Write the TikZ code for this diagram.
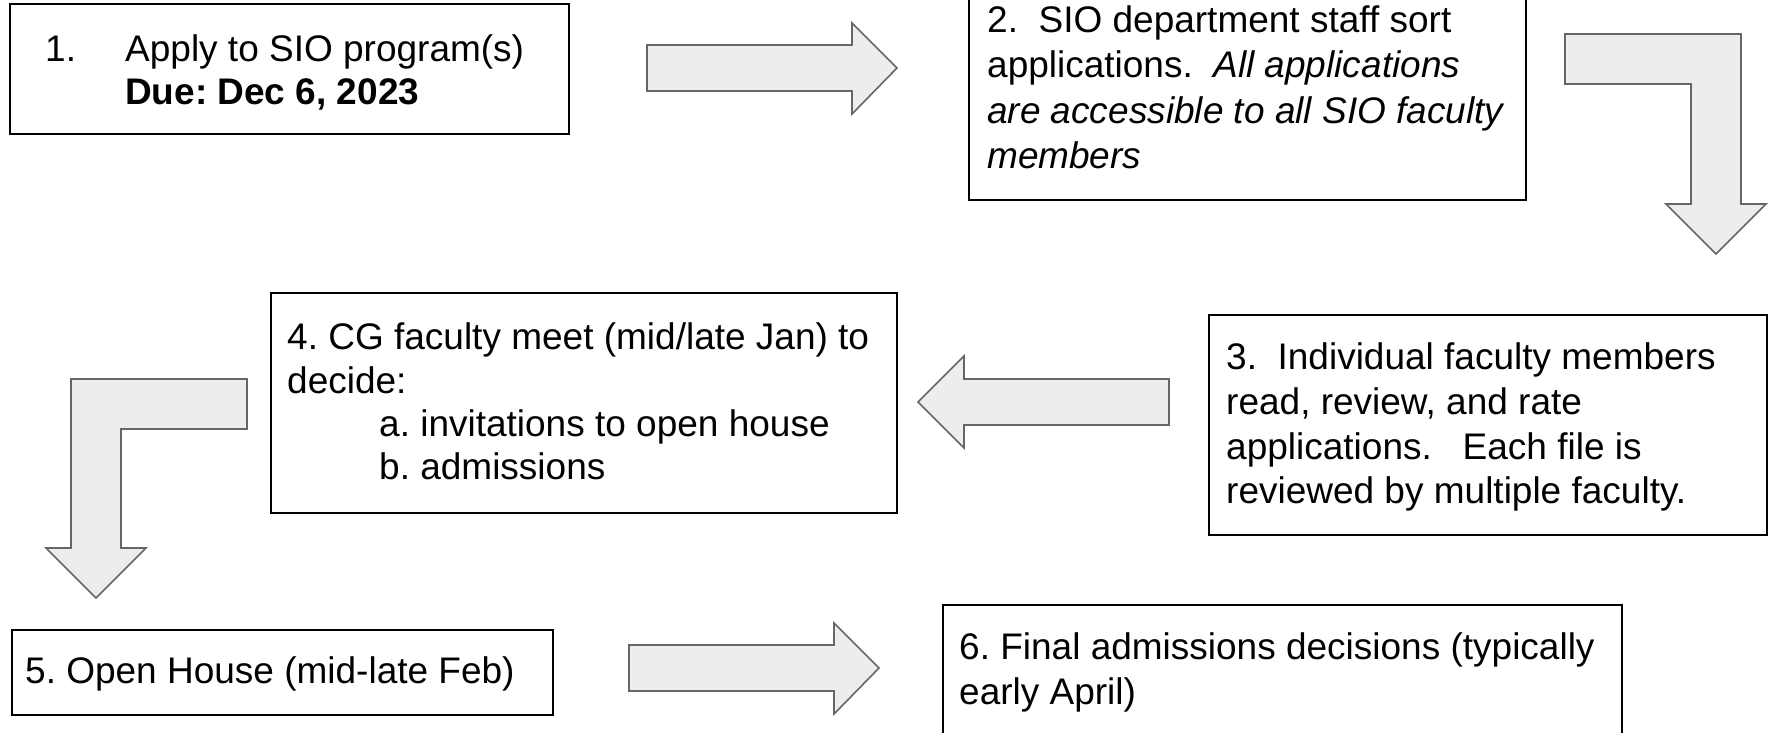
\documentclass[tikz,border=0pt]{standalone}
\usepackage{fontspec}
\setmainfont{Liberation Sans}
\frenchspacing
\begin{document}
\begin{tikzpicture}[x=1pt,y=-1pt,
  stepbox/.style={draw=black,line width=2pt,fill=white,inner sep=0pt,anchor=north west},
  txt/.style={anchor=base west,inner sep=0pt,font=\fontsize{37}{45}\selectfont},
  blockarrow/.style={draw=black!60,line width=1.6pt,fill=black!7,line join=miter}]
\useasboundingbox (0,0) rectangle (1773,732);

% process boxes
\node[stepbox,minimum width=559pt,minimum height=130pt] (b1) at (9,3) {};
\node[stepbox,minimum width=557pt,minimum height=204pt] (b2) at (968,-5) {};
\node[stepbox,minimum width=558pt,minimum height=220pt] (b3) at (1208,314) {};
\node[stepbox,minimum width=626pt,minimum height=220pt] (b4) at (270,292) {};
\node[stepbox,minimum width=541pt,minimum height=85pt] (b5) at (11,629) {};
\node[stepbox,minimum width=679pt,minimum height=141pt] (b6) at (942,604) {};

% step 1
\node[txt] (t1n) at (45,61) {1.};
\node[txt] (t1a) at (125,61) {Apply to SIO program(s)};
\node[txt] (t1b) at (125,104) {\bfseries Due: Dec 6, 2023};

% step 2
\node[txt] (t2a) at (987,32) {2.\ \ SIO department staff sort};
\node[txt] (t2b) at (987,77.5) {applications.\ \ \itshape All applications};
\node[txt] (t2c) at (987,123) {\itshape are accessible to all SIO faculty};
\node[txt] (t2d) at (987,168.5) {\itshape members};

% step 3
\node[txt] (t3a) at (1226,369) {3.\ \ Individual faculty members};
\node[txt] (t3b) at (1226,414) {read, review, and rate};
\node[txt] (t3c) at (1226,459) {applications.\ \ \ Each file is};
\node[txt] (t3d) at (1226,503) {reviewed by multiple faculty.};

% step 4
\node[txt] (t4a) at (287,349) {4. CG faculty meet (mid/late Jan) to};
\node[txt] (t4b) at (287,393) {decide:};
\node[txt] (t4c) at (379,436) {a. invitations to open house};
\node[txt] (t4d) at (379,479) {b. admissions};

% step 5
\node[txt] (t5) at (25,683) {5. Open House (mid-late Feb)};

% step 6
\node[txt] (t6a) at (959,659) {6. Final admissions decisions (typically};
\node[txt] (t6b) at (959,704) {early April)};

% block arrows between the steps
\draw[blockarrow] (647,45) -- (852,45) -- (852,23) -- (897,68) -- (852,114) -- (852,91) -- (647,91) -- cycle;
\draw[blockarrow] (1565,34) -- (1741,34) -- (1741,204) -- (1766,204) -- (1716,254) -- (1666,204) -- (1691,204) -- (1691,84) -- (1565,84) -- cycle;
\draw[blockarrow] (1169,379) -- (964,379) -- (964,356) -- (918,402) -- (964,448) -- (964,425) -- (1169,425) -- cycle;
\draw[blockarrow] (247,379) -- (71,379) -- (71,548) -- (46,548) -- (96,598) -- (146,548) -- (121,548) -- (121,429) -- (247,429) -- cycle;
\draw[blockarrow] (629,645) -- (834,645) -- (834,623) -- (879,668) -- (834,714) -- (834,691) -- (629,691) -- cycle;
\end{tikzpicture}
\end{document}
